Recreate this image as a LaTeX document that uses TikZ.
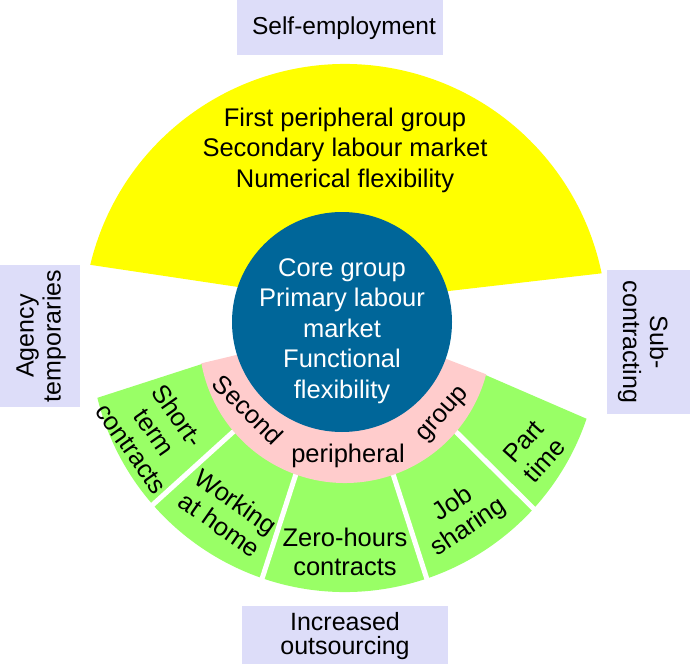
\documentclass[tikz,border=0pt]{standalone}
\usepackage{fontspec}
\setmainfont{Liberation Sans}
\usetikzlibrary{calc}
\definecolor{yel}{RGB}{255,255,0}
\definecolor{grn}{RGB}{153,255,102}
\definecolor{pnk}{RGB}{255,204,204}
\definecolor{blu}{RGB}{0,102,153}
\definecolor{lav}{RGB}{221,221,249}
\begin{document}
\begin{tikzpicture}[x=1pt,y=1pt,
  txt/.style={font=\fontsize{25.5}{30.5}\selectfont, align=center, inner sep=0pt, text=black},
  sectxt/.style={txt, font=\fontsize{25.5}{28.5}\selectfont},
  tighttxt/.style={txt, font=\fontsize{25}{24}\selectfont},
  boxtxt/.style={txt, font=\fontsize{25}{27}\selectfont},
  sidebox/.style={fill=lav},
  gap/.style={white, line width=5pt}]
\useasboundingbox (0,0) rectangle (690,-666);
\coordinate (C) at (345,-326);
\coordinate (G) at (345,-337);
% first peripheral group (yellow)
\fill[yel] (345,-303) -- ($(C)+(166.5:262)$) arc[start angle=166.5,end angle=11.6,radius=262] -- cycle;
% green sectors
\fill[grn] ($(G)+(190.4:140)$) -- ($(G)+(193.8:255)$)
  arc[start angle=193.8,end angle=341.3,radius=255]
  -- ($(G)+(345.2:140)$) arc[start angle=345.2,end angle=190.4,radius=140] -- cycle;
\foreach \i/\o in {220.3/221.1, 250.3/251.05, 289.3/288.7, 319.5/317.7}{
  \coordinate (gi) at ($(G)+(\i:146)$);
  \coordinate (go) at ($(G)+(\o:254)$);
  \draw[gap] ($(gi)!-0.1!(go)$) -- ($(gi)!1.1!(go)$);
}
% second peripheral group (pink)
\fill[pnk] ($(G)+(190.4:146)$) arc[start angle=190.4,end angle=345.2,radius=146]
  -- (345,-320) -- (345,-329) -- cycle;
% core
\fill[blu] (342,-322) circle[radius=110];
% texts
\node[txt] (first) at (345,-150) {First peripheral group\\Secondary labour market\\Numerical flexibility};
\node[txt,text=white] (core) at (342,-331) {Core group\\Primary labour\\market\\Functional\\flexibility};
\node[txt,rotate=-45] (second) at (248,-410) {Second};
\node[txt] (periph) at (348,-456) {peripheral};
\node[txt,rotate=48] (group) at (444,-415) {group};
\node[sectxt,rotate=-55] (short) at (155,-432) {Short-\\term\\contracts};
\node[sectxt,rotate=-35] (work) at (228,-513) {Working\\at home};
\node[sectxt] (zero) at (345,-552) {Zero-hours\\contracts};
\node[sectxt,rotate=34] (job) at (461,-516) {Job\\sharing};
\node[sectxt,rotate=48] (part) at (534,-451) {Part\\time};
% side boxes
\fill[sidebox] (237,0) rectangle (443,-55);
\node[txt,font=\fontsize{24.5}{30}\selectfont] (self) at (344,-28) {Self-employment};
\fill[sidebox] (242,-606) rectangle (448,-664);
\node[tighttxt] (out) at (345,-636) {Increased\\outsourcing};
\fill[sidebox] (0,-265) rectangle (80,-407);
\node[boxtxt,rotate=90] (agency) at (41,-336) {Agency\\temporaries};
\fill[sidebox] (607,-270) rectangle (690,-414);
\node[boxtxt,rotate=-90] (sub) at (643,-342) {Sub-\\contracting};
\end{tikzpicture}
\end{document}
